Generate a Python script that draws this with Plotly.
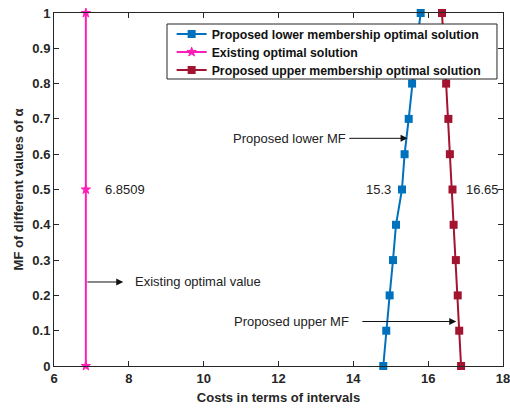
import plotly.graph_objects as go

# membership levels (alpha cuts)
alpha = [0, 0.1, 0.2, 0.3, 0.4, 0.5, 0.6, 0.7, 0.8, 0.9, 1.0]

# proposed lower membership optimal solution
lower_cost = [14.8, 14.88, 14.97, 15.06, 15.14, 15.3, 15.37, 15.48, 15.57, 15.68, 15.8]
# proposed upper membership optimal solution
upper_cost = [16.88, 16.83, 16.79, 16.74, 16.68, 16.65, 16.58, 16.54, 16.48, 16.42, 16.37]
# existing optimal solution
existing_alpha = [0, 0.5, 1.0]
existing_cost = [6.8509, 6.8509, 6.8509]

x_ticks = [6, 8, 10, 12, 14, 16, 18]
y_ticks = [0, 0.1, 0.2, 0.3, 0.4, 0.5, 0.6, 0.7, 0.8, 0.9, 1.0]
y_tick_labels = ["0", "0.1", "0.2", "0.3", "0.4", "0.5", "0.6", "0.7", "0.8", "0.9", "1"]

BLUE = "#0072BD"
PINK = "#FF1DB8"
RED = "#A2142F"
FONT = "Liberation Sans"

fig = go.Figure()
fig.add_trace(go.Scatter(
    x=lower_cost, y=alpha, mode="lines+markers",
    name="Proposed lower membership optimal solution",
    line=dict(color=BLUE, width=2),
    marker=dict(symbol="square", size=8, color=BLUE),
    cliponaxis=False, legend="legend",
))
fig.add_trace(go.Scatter(
    x=existing_cost, y=existing_alpha, mode="lines+markers",
    name="Existing optimal solution",
    line=dict(color=PINK, width=2),
    marker=dict(symbol="star", size=7, color=PINK, line=dict(color=PINK, width=1)),
    cliponaxis=False, legend="legend2",
))
fig.add_trace(go.Scatter(
    x=upper_cost, y=alpha, mode="lines+markers",
    name="Proposed upper membership optimal solution",
    line=dict(color=RED, width=2),
    marker=dict(symbol="square", size=8, color=RED),
    cliponaxis=False, legend="legend3",
))

annotations = []

def text_note(x, y, s, anchor="left"):
    annotations.append(dict(
        x=x, y=y, xref="x", yref="y", text=s, showarrow=False,
        xanchor=anchor, yanchor="middle",
        font=dict(family=FONT, size=13, color="#222222"),
    ))

def arrow(x0, x1, y):
    annotations.append(dict(
        x=x1, y=y, ax=x0, ay=y, xref="x", yref="y", axref="x", ayref="y",
        text="", showarrow=True, arrowhead=2, arrowsize=1.4, arrowwidth=1,
        arrowcolor="#111111",
    ))

text_note(7.3, 0.5, str(existing_cost[1]))
text_note(lower_cost[5] - 0.25, 0.5, str(lower_cost[5]), anchor="right")
text_note(upper_cost[5] + 0.3, 0.5, str(upper_cost[5]))

text_note(8.1, 0.238, "Existing optimal value")
arrow(existing_cost[0], 7.85, 0.238)

text_note(13.85, 0.645, "Proposed lower MF", anchor="right")
arrow(13.85, 15.45, 0.645)

text_note(13.95, 0.126, "Proposed upper MF", anchor="right")
arrow(14.2, 16.75, 0.126)

axis_common = dict(
    showline=True, linecolor="#262626", linewidth=1, mirror="ticks",
    ticks="inside", ticklen=5, tickcolor="#262626",
    showgrid=False, zeroline=False, automargin=False,
    ticklabeloverflow="allow",
    tickfont=dict(family=FONT, size=13, color="#262626", weight="bold"),
)

# one legend per entry so the rows sit close together inside a single framed box
legend_font = dict(family=FONT, size=12.3, color="#111111", weight="bold")
def legend_row(y):
    return dict(x=0.262, y=y, xanchor="left", yanchor="middle",
                bgcolor="rgba(0,0,0,0)", borderwidth=0,
                font=legend_font, itemwidth=30)

fig.update_layout(
    width=510, height=412,
    margin=dict(l=54, r=7, t=13, b=46),
    paper_bgcolor="white", plot_bgcolor="white",
    showlegend=True,
    legend=legend_row(0.9405),
    legend2=legend_row(0.8895),
    legend3=legend_row(0.8385),
    shapes=[dict(
        type="rect", xref="paper", yref="paper",
        x0=0.2517, x1=0.9866, y0=0.813, y1=0.9688,
        fillcolor="white", line=dict(color="#262626", width=1), layer="above",
    )],
    xaxis=dict(
        range=[6, 18], tickvals=x_ticks,
        title=dict(text="Costs in terms of intervals", standoff=8,
                   font=dict(family=FONT, size=13, color="#262626", weight="bold")),
        **axis_common,
    ),
    yaxis=dict(
        range=[0, 1], tickvals=y_ticks, ticktext=y_tick_labels,
        title=dict(text="MF of different values of α", standoff=5,
                   font=dict(family=FONT, size=13, color="#262626", weight="bold")),
        **axis_common,
    ),
    annotations=annotations,
)

fig.write_html("out.html")
